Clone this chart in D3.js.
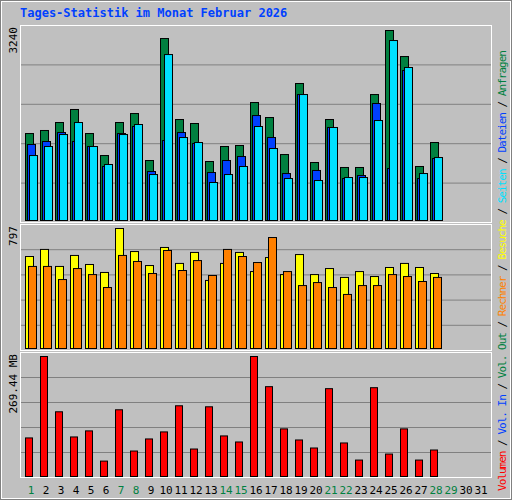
<!DOCTYPE html>
<html><head><meta charset="utf-8">
<script src="https://cdn.jsdelivr.net/npm/d3@7"></script>
<style>body{margin:0;background:#fff}</style></head>
<body><svg id="c" width="512" height="500"></svg>
<script>
const days = d3.range(1, 32);
const weekend = [1,7,8,14,15,21,22,28,29];
const hits  = [1483,1535,1671,1893,1483,1108,1671,1824,1023,3103,1722,1654,1006,1262,1279,2012,1756,1125,2336,989,1722,904,904,2148,3240,2796,921,1330];
const files = [1296,1347,1500,1347,1262,921,1483,1603,835,1364,1500,1313,818,1023,1091,1790,1415,801,2148,853,1586,716,767,1995,887,2558,716,1057];
const pages = [1108,1262,1466,1671,1262,955,1466,1637,784,2830,1415,1330,648,784,921,1603,1228,716,2148,682,1586,733,733,1705,3069,2609,801,1074];
const visits= [611,658,545,618,558,505,797,644,551,671,565,638,452,565,638,511,604,491,624,491,531,472,511,478,538,565,538,498];
const sites = [545,545,458,531,491,405,618,578,498,651,518,584,485,658,611,571,737,511,418,438,405,359,418,418,491,478,445,472];
const kbytes= [86.6,269.44,145.3,88.8,102.4,34.6,149.8,57.2,84.3,100.1,158.8,61.7,156.5,91.1,77.5,269.44,201.7,106.9,82.0,64.0,197.2,75.3,36.9,199.4,50.4,106.9,36.9,59.5];
const title = "Tages-Statistik im Monat Februar 2026";
const axisLabels = ["3240","797","269.44 MB"];

const svg = d3.select("#c");
const font = "'DejaVu Sans Mono', monospace";
svg.append("rect").attr("width",512).attr("height",500).attr("fill","#c0c0c0");
svg.append("rect").attr("x",0.5).attr("y",0.5).attr("width",511).attr("height",499).attr("fill","none").attr("stroke","#808080");
svg.append("rect").attr("x",1.5).attr("y",1.5).attr("width",509).attr("height",497).attr("fill","none").attr("stroke","#fff");
svg.append("text").attr("x",20).attr("y",17).attr("font-family",font).attr("font-weight","bold")
  .attr("font-size",12).attr("fill","#0040ff").text(title);

const x = d3.scaleBand().domain(days).range([20,485]).paddingInner(0);
// day slot: starts at 25 + 15*(d-1)
const slot = d => 25 + 15*(d-1);

const panels = [
  {top:25,bottom:222,max:3240},
  {top:224,bottom:350,max:797},
  {top:352,bottom:477,max:269.44}
];
panels.forEach((p,i)=>{
  svg.append("rect").attr("x",20.5).attr("y",p.top+0.5).attr("width",471).attr("height",p.bottom-p.top)
    .attr("fill","#c0c0c0").attr("stroke","#fff");
  const h = p.bottom - p.top;
  for(let k=1;k<5;k++){
    const gy = p.top + k*h/5;
    svg.append("line").attr("x1",21).attr("x2",491).attr("y1",gy+0.5).attr("y2",gy+0.5).attr("stroke","#808080");
  }
  svg.append("text").attr("transform",`translate(17,${p.top+2}) rotate(-90)`).attr("text-anchor","end")
    .attr("font-family",font).attr("font-size",11).attr("fill","#000").text(axisLabels[i]);
});

const y1 = d3.scaleLinear().domain([0,3240]).range([220,30]);
const y2 = d3.scaleLinear().domain([0,797]).range([348,228]);
const y3 = d3.scaleLinear().domain([0,269.44]).range([476,356]);

function bars(data, y, dx, w, color){
  svg.append("g").selectAll("rect").data(data).join("rect")
    .attr("x",(v,i)=>slot(i+1)+dx+0.5).attr("y",v=>y(v)+0.5)
    .attr("width",w).attr("height",v=>y(0)-y(v))
    .attr("fill",color).attr("stroke","#000").attr("stroke-width",1);
}
bars(hits,y1,0,8,"#008040");
bars(files,y1,2,8,"#0040ff");
bars(pages,y1,4,8,"#00e0ff");
bars(visits,y2,0,8,"#ffff00");
bars(sites,y2,3,8,"#ff8000");
bars(kbytes,y3,0,7,"#ff0000");

svg.append("g").selectAll("text").data(days).join("text")
  .attr("x",d=>slot(d)+6).attr("y",494).attr("text-anchor","middle")
  .attr("font-family",font).attr("font-size",11)
  .attr("fill",d=>weekend.includes(d)?"#008040":"#000").text(d=>d);

const legend = [["Volumen","#ff0000"],["Vol. In","#0040ff"],["Vol. Out","#008040"],["Rechner","#ff8000"],
  ["Besuche","#ffff00"],["Seiten","#00e0ff"],["Dateien","#0040ff"],["Anfragen","#008040"]];
const lt = svg.append("text").attr("transform","translate(506,491) rotate(-90)")
  .attr("font-family",font).attr("font-size",11).attr("textLength",441).attr("lengthAdjust","spacing");
legend.forEach((l,i)=>{
  if(i>0) lt.append("tspan").attr("fill","#000").text(" / ");
  lt.append("tspan").attr("fill",l[1]).text(l[0]);
});
</script></body></html>
